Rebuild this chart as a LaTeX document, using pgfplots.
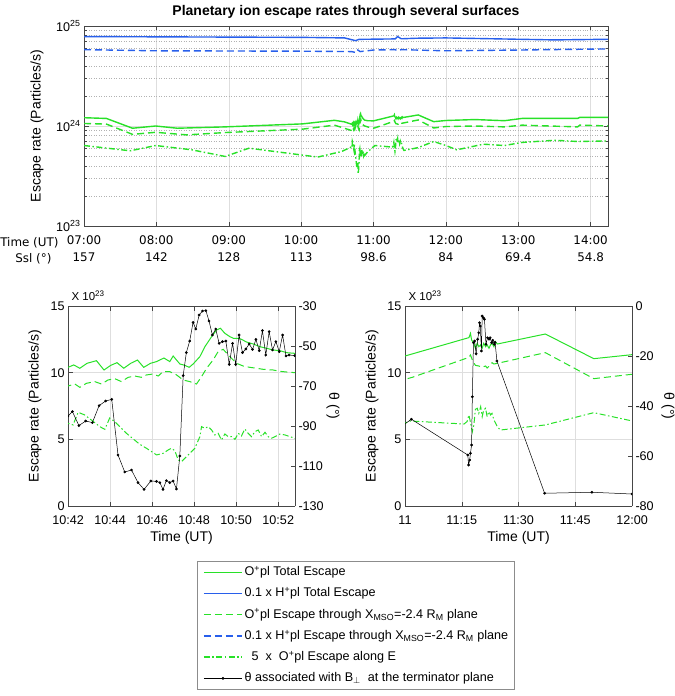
\documentclass[border=0pt]{standalone}
\usepackage{pgfplots}
\pgfplotsset{compat=1.18}
\usepackage{pgfplotstable}
\usepackage{fontspec}
\setmainfont{Liberation Sans}
\newfontfamily\dejavu{DejaVu Sans}

\definecolor{ogreen}{RGB}{40,225,40}
\definecolor{hblue}{RGB}{40,95,235}
\definecolor{axgray}{RGB}{70,70,70}

\newcommand\fs[2]{\fontsize{#1}{#2}\selectfont}

% t: minutes after 07:00 UT, v: escape rate in units of 1e23 particles/s
\pgfplotstableread{
t v
0 12.1
18.6 11.9
40.2 9.5
59.4 10.0
77.4 9.5
117 9.8
181.2 10.5
207.6 11.4
216 11.0
222.00 10.40
222.27 10.58
222.56 10.33
222.90 10.70
223.35 10.90
223.71 10.20
224.03 10.55
224.33 10.75
224.65 10.33
224.98 10.70
225.30 10.95
225.60 10.40
225.92 10.70
226.21 10.83
226.56 11.10
226.84 10.83
227.00 11.25
227.32 10.65
227.56 10.55
227.76 10.40
227.95 10.65
228.27 11.20
228.51 11.95
228.83 12.70
229.06 13.20
229.25 13.33
229.46 12.95
229.70 12.70
229.86 12.58
230.10 12.58
230.25 12.50
230.49 12.30
230.81 12.15
231.13 11.95
231.44 11.83
231.76 11.70
232.08 11.65
232.40 11.50
232.79 11.45
235 11.3
240.0 11.25
256.9 12.63
257.3 12.95
257.6 12.45
258.2 12.20
258.6 11.83
259.1 12.20
259.5 11.95
260.0 12.08
260.4 11.83
260.8 12.20
261.3 11.95
261.7 12.08
262.2 11.83
262.6 12.08
263.0 12.20
263.5 11.95
263.9 12.33
264.4 12.15
277.1 12.90
289.9 11.05
300 11.35
324 11.6
348.6 11.3
363 11.9
409.2 11.9
411 12.2
435.6 12.2
}\Otot

\pgfplotstableread{
t v
0 10.6
18.6 10.45
40.2 8.25
59.4 8.65
85.2 8.15
117 8.6
181.2 9.3
207.6 10.2
222.00 9.00
222.32 9.15
222.56 8.90
222.87 9.20
223.27 9.33
223.59 9.15
223.90 9.45
224.22 9.55
224.54 9.33
224.86 9.65
225.17 9.75
225.49 9.65
225.73 9.83
226.05 9.90
226.29 9.75
226.52 10.08
226.84 10.08
227.16 9.83
227.48 9.45
227.79 9.33
228.11 9.15
228.35 9.70
228.59 10.33
228.90 10.95
229.14 11.58
229.38 11.75
229.70 11.20
230.02 10.70
230.33 10.50
230.65 10.40
230.97 10.33
231.29 10.25
231.76 10.20
232.08 10.10
232.40 10.05
232.79 10.00
235 9.8
240.0 9.50
241.9 9.65
256.9 11.15
257.3 11.33
257.8 10.95
258.2 10.75
258.6 10.55
259.5 10.50
260.4 10.40
261.3 10.50
261.7 10.35
262.6 10.58
263.0 10.75
263.5 10.65
264.4 10.70
277.1 11.50
289.9 9.55
300 9.88
324 10.0
348.6 9.8
363 10.2
409.2 9.8
411 10.2
435.6 10.0
}\Oplane

\pgfplotstableread{
t v
0 6.38
38.4 5.65
59.4 6.38
89.4 5.78
117 4.96
136.8 6.0
193.8 4.89
213.6 5.56
222.00 6.20
222.24 6.08
222.48 7.03
222.79 6.83
223.11 6.45
223.51 5.95
223.75 5.75
223.98 6.60
224.22 6.33
224.46 5.95
224.78 5.45
225.10 5.03
225.41 4.63
225.73 4.33
226.05 4.00
226.21 3.83
226.52 3.95
226.76 4.20
226.92 4.33
227.08 4.15
227.24 3.45
227.40 3.33
227.56 3.58
227.79 3.95
228.03 4.33
228.27 5.20
228.35 5.95
228.51 5.83
228.67 5.95
228.83 5.70
228.98 5.33
229.14 5.45
229.30 4.95
229.46 5.40
229.62 5.20
229.78 5.20
229.94 5.00
230.10 5.45
230.25 5.25
230.41 5.78
230.57 5.45
230.73 5.20
230.89 5.58
231.05 5.70
231.21 5.20
231.37 5.53
231.52 5.20
231.68 5.08
231.84 5.20
232.08 5.40
232.32 5.33
232.56 5.20
232.79 5.08
235 5.5
240.0 6.20
241.1 6.38
255.6 6.15
256.4 6.33
256.9 6.83
257.8 5.58
258.2 6.08
258.6 7.25
259.1 7.33
259.5 6.95
260.0 7.45
260.4 6.70
260.8 7.20
261.3 7.33
261.7 6.70
262.2 7.08
262.6 6.83
263.0 6.95
263.5 6.45
264.4 5.95
265.2 5.70
277.1 6.08
289.9 7.00
300 6.38
309 5.78
331.2 6.58
348.6 6.38
363 6.85
390 7.2
409.2 7.0
435.6 7.1
}\OalongE

\pgfplotstableread{
t v
0 78.4
180 77.0
216 76.0
225 71.4
228 73.5
234 73.7
258 74.3
260 78.4
263 74.5
276 75.5
300 76.0
390 72.6
435.6 73.7
}\Htot

\pgfplotstableread{
t v
0 58.0
60 56.5
180 56.0
222 55.5
226 54.0
227 57.5
229 55.5
240 57.5
258 58.0
260 56.5
263 58.0
300 56.5
360 57.5
435.6 59.0
}\Hplane

% theta (deg) of B_perp at the terminator plane
\pgfplotstableread{
t th
222.00 -85.0
222.21 -82.8
222.52 -89.8
222.84 -87.5
223.16 -88.3
223.48 -79.8
223.79 -77.5
224.08 -76.7
224.38 -104.5
224.70 -113.0
225.02 -112.0
225.33 -118.3
225.62 -121.7
225.94 -117.5
226.21 -117.7
226.37 -118.3
226.52 -121.7
226.68 -117.3
226.84 -118.3
227.00 -117.5
227.16 -121.5
227.32 -105.0
227.48 -64.8
227.63 -53.3
227.79 -47.5
227.95 -38.2
228.08 -41.5
228.24 -34.5
228.40 -32.5
228.56 -32.3
228.71 -37.5
228.87 -44.5
229.03 -41.5
229.19 -48.7
229.35 -47.8
229.51 -47.5
229.67 -59.2
229.83 -48.7
229.98 -59.2
230.14 -44.5
230.30 -53.3
230.46 -51.5
230.62 -49.0
230.78 -51.7
230.94 -46.7
231.10 -52.3
231.25 -42.3
231.41 -54.5
231.57 -42.8
231.73 -52.0
231.89 -47.8
232.05 -52.8
232.21 -44.5
232.37 -55.0
232.52 -54.5
232.79 -54.8
241.7 -45.3
256.6 -59.6
256.8 -63.6
257.1 -61.6
257.3 -58.9
257.6 -55.6
257.8 -36.3
258.1 -14.7
258.4 -14.0
258.8 -19.1
259.2 -13.3
259.5 -10.7
259.7 -6.7
259.9 -8.0
260.2 -18.0
260.4 -4.0
260.7 -4.7
261.0 -5.3
261.4 -15.3
261.8 -12.7
262.2 -13.3
262.5 -12.7
262.9 -14.7
263.2 -13.7
263.6 -15.3
263.8 -14.5
264.3 -22.0
276.9 -74.9
289.4 -74.5
300.0 -75.2
}\ThetaB

% dashed line styles of the rates and the theta style
\tikzset{
  oplane/.style={draw=ogreen, line width=1.4bp, dash pattern=on 7bp off 4bp},
  oalonge/.style={draw=ogreen, line width=1.4bp, dash pattern=on 6bp off 2.5bp on 1.5bp off 2.5bp},
  hplane/.style={draw=hblue, line width=1.4bp, dash pattern=on 7bp off 4bp},
  thetaline/.style={draw=black, line width=0.5bp, mark=*, mark size=1.1bp, mark options={fill=black}},
}

\pgfplotsset{
  matlab/.style={
    scale only axis,
    clip mode=individual,
    axis line style={axgray, line width=0.6bp},
    every tick/.style={axgray, line width=0.5bp},
    tick align=inside,
    major tick length=4.5bp,
    minor tick length=2.5bp,
    grid style={black!13, line width=0.5bp},
    minor grid style={black!30, dotted, line width=0.5bp},
    clip marker paths=true,
    tick label style={font=\fs{12.6bp}{14bp}},
    label style={font=\fs{14bp}{16bp}},
  },
}

\begin{document}
\begin{tikzpicture}
\path[use as bounding box] (0,0) rectangle (675bp,-696bp);

% ---- whole interval, logarithmic rates
\begin{axis}[matlab,
  at={(84bp,-226bp)}, anchor=south west, width=524bp, height=200bp,
  xmin=0, xmax=434.4, ymode=log, ymin=1, ymax=100,
  xtick={0,60,...,420},
  xticklabels={07:00\\157, 08:00\\142, 09:00\\128, 10:00\\113, 11:00\\98.6, 12:00\\84, 13:00\\69.4, 14:00\\54.8},
  xticklabel style={font=\dejavu\fs{11.9bp}{16.5bp}, align=center, yshift=-6.5bp},
  ytick={1,10,100},
  yticklabels={10\textsuperscript{23},10\textsuperscript{24},10\textsuperscript{25}},
  xmajorgrids, ymajorgrids, yminorgrids,
  ylabel={Escape rate (Particles/s)},
  ylabel style={at={(rel axis cs:0,0.5)}, anchor=center, yshift=47bp},
  title={Planetary ion escape rates through several surfaces},
  title style={font=\fs{14bp}{16bp}\bfseries, at={(rel axis cs:0.5,1)}, anchor=base, yshift=4.5bp},
]
\addplot[draw=hblue, line width=1.4bp] table[x=t, y=v] {\Htot};
\addplot[hplane] table[x=t, y=v] {\Hplane};
\addplot[draw=ogreen, line width=1.4bp] table[x=t, y=v] {\Otot};
\addplot[oplane] table[x=t, y=v] {\Oplane};
\addplot[oalonge] table[x=t, y=v] {\OalongE};
\node[anchor=base east, font=\dejavu\fs{11.9bp}{14bp}] at (rel axis cs:0,0) [xshift=-22bp, yshift=-20.7bp] {Time (UT)};
\node[anchor=base east, font=\dejavu\fs{11.9bp}{14bp}] at (rel axis cs:0,0) [xshift=-29bp, yshift=-36bp] {Ssl (°)};
\end{axis}

% ---- 10:42 -- 10:53
\begin{axis}[matlab,
  at={(68bp,-506bp)}, anchor=south west, width=227bp, height=200bp,
  xmin=222, xmax=232.8, ymin=0, ymax=15,
  xtick={222,224,...,232}, xticklabels={10:42,10:44,10:46,10:48,10:50,10:52},
  xticklabel style={yshift=-6bp},
  ytick={0,5,10,15}, yticklabels={0,5,10,15},
  axis y line*=left,
  xmajorgrids, ymajorgrids,
  xlabel={Time (UT)},
  xlabel style={at={(rel axis cs:0.5,0)}, anchor=center, yshift=-32bp},
  ylabel={Escape rate (Particles/s)},
  ylabel style={at={(rel axis cs:0,0.5)}, anchor=center, yshift=33bp},
]
\addplot[draw=ogreen, line width=1bp] table[x=t, y=v] {\Otot};
\addplot[oplane, line width=1bp] table[x=t, y=v] {\Oplane};
\addplot[oalonge, line width=1bp] table[x=t, y=v] {\OalongE};
\node[anchor=base west, font=\fs{11.5bp}{13bp}] at (rel axis cs:0,1) [yshift=5.5bp] {X 10\textsuperscript{23}};
\end{axis}
\begin{axis}[matlab,
  at={(68bp,-506bp)}, anchor=south west, width=227bp, height=200bp,
  xmin=222, xmax=232.8, ymin=-130, ymax=-30,
  axis y line*=right, axis x line=none,
  ytick={-130,-110,...,-30}, yticklabels={-130,-110,-90,-70,-50,-30},
  ylabel={θ (°)},
  ylabel style={at={(rel axis cs:1,0.5)}, anchor=center, rotate=180, yshift=38bp},
]
\addplot[thetaline] table[x=t, y=th] {\ThetaB};
\end{axis}

% ---- 11:00 -- 12:00
\begin{axis}[matlab,
  at={(405bp,-506bp)}, anchor=south west, width=227bp, height=200bp,
  xmin=240, xmax=300, ymin=0, ymax=15,
  xtick={240,255,...,300}, xticklabels={11,11:15,11:30,11:45,12:00},
  xticklabel style={yshift=-6bp},
  ytick={0,5,10,15}, yticklabels={0,5,10,15},
  axis y line*=left,
  xmajorgrids, ymajorgrids,
  xlabel={Time (UT)},
  xlabel style={at={(rel axis cs:0.5,0)}, anchor=center, yshift=-32bp},
  ylabel={Escape rate (Particles/s)},
  ylabel style={at={(rel axis cs:0,0.5)}, anchor=center, yshift=33bp},
]
\addplot[draw=ogreen, line width=1bp] table[x=t, y=v] {\Otot};
\addplot[oplane, line width=1bp] table[x=t, y=v] {\Oplane};
\addplot[oalonge, line width=1bp] table[x=t, y=v] {\OalongE};
\node[anchor=base west, font=\fs{11.5bp}{13bp}] at (rel axis cs:0,1) [yshift=5.5bp] {X 10\textsuperscript{23}};
\end{axis}
\begin{axis}[matlab,
  at={(405bp,-506bp)}, anchor=south west, width=227bp, height=200bp,
  xmin=240, xmax=300, ymin=-80, ymax=0,
  axis y line*=right, axis x line=none,
  ytick={-80,-60,...,0}, yticklabels={-80,-60,-40,-20,0},
  ylabel={θ (°)},
  ylabel style={at={(rel axis cs:1,0.5)}, anchor=center, rotate=180, yshift=36bp},
]
\addplot[thetaline] table[x=t, y=th] {\ThetaB};
\end{axis}

% ---- legend
\begin{axis}[hide axis, scale only axis, width=10bp, height=10bp,
  xmin=0, xmax=1, ymin=0, ymax=1,
  at={(197bp,-561bp)}, anchor=north west,
  legend style={at={(rel axis cs:0,1)}, anchor=north west,
    draw=black!45, line width=0.5bp, fill=white,
    font=\fs{12.6bp}{14bp},
    inner xsep=6bp, inner ysep=3.5bp, column sep=2bp,
    cells={anchor=west},
    nodes={inner xsep=0bp, inner ysep=0bp, text height=11bp, text depth=4.2bp},
    row sep=6bp},
  legend image code/.code={%
    \draw[mark repeat=2, mark phase=2, #1] plot coordinates {(0bp,0bp) (19bp,0bp) (38bp,0bp)};},
]
\addlegendimage{draw=ogreen, line width=1.4bp}
\addlegendentry{O\textsuperscript{+}pl Total Escape}
\addlegendimage{draw=hblue, line width=1.4bp}
\addlegendentry{0.1 x H\textsuperscript{+}pl Total Escape}
\addlegendimage{oplane}
\addlegendentry{O\textsuperscript{+}pl Escape through X\textsubscript{MSO}=-2.4 R\textsubscript{M} plane}
\addlegendimage{hplane}
\addlegendentry{0.1 x H\textsuperscript{+}pl Escape through X\textsubscript{MSO}=-2.4 R\textsubscript{M} plane}
\addlegendimage{oalonge}
\addlegendentry{\hspace{7bp}5 \ x \ O\textsuperscript{+}pl Escape along E}
\addlegendimage{thetaline}
\addlegendentry{θ associated with B$_\perp$\ \ at the terminator plane}
\end{axis}
\end{tikzpicture}
\end{document}
